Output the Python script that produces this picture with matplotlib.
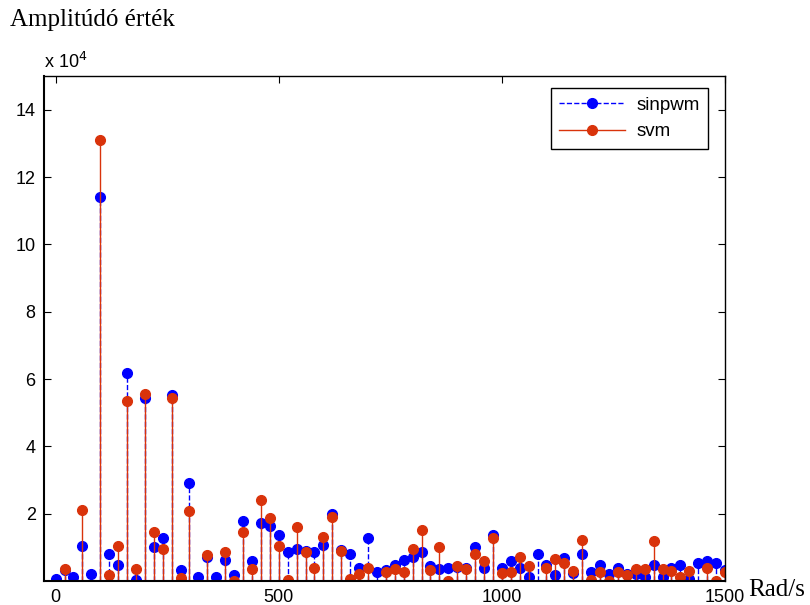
import numpy as np
import matplotlib
matplotlib.use("Agg")
import matplotlib.pyplot as plt
from matplotlib.lines import Line2D
from matplotlib.ticker import FixedLocator

# Frequency grid (rad/s)
freq = np.arange(0, 1501, 20)

# Amplitudes in units of 1e4
sinpwm = [0.07, 0.33, 0.12, 1.04, 0.21, 11.4, 0.81, 0.49, 6.18, 0.04,
          5.44, 1.00, 1.28, 5.53, 0.32, 2.92, 0.12, 0.72, 0.12, 0.62,
          0.18, 1.78, 0.59, 1.73, 1.63, 1.36, 0.86, 0.96, 0.90, 0.85,
          1.08, 2.00, 0.92, 0.81, 0.40, 1.28, 0.26, 0.33, 0.49, 0.62,
          0.72, 0.86, 0.45, 0.35, 0.40, 0.42, 0.38, 1.00, 0.40, 1.37,
          0.38, 0.59, 0.40, 0.12, 0.81, 0.49, 0.18, 0.67, 0.25, 0.81,
          0.27, 0.49, 0.22, 0.40, 0.22, 0.22, 0.12, 0.49, 0.12, 0.40,
          0.49, 0.07, 0.54, 0.58, 0.54, 0.33]
svm = [np.nan, 0.35, np.nan, 2.10, np.nan, 13.09, 0.17, 1.04, 5.35, 0.35,
       5.56, 1.45, 0.95, 5.44, 0.08, 2.09, np.nan, 0.76, np.nan, 0.86,
       0.00, 1.46, 0.35, 2.41, 1.87, 1.04, 0.03, 1.59, 0.87, 0.40,
       1.32, 1.91, 0.90, 0.07, 0.22, 0.40, np.nan, 0.27, 0.36, 0.27,
       0.95, 1.51, 0.32, 1.00, 0.00, 0.45, 0.36, 0.81, 0.59, 1.28,
       0.23, 0.27, 0.72, 0.45, np.nan, 0.40, 0.66, 0.54, 0.30, 1.23,
       0.03, 0.27, 0.00, 0.28, 0.17, 0.35, 0.35, 1.18, 0.35, 0.31,
       0.12, 0.31, np.nan, 0.40, 0.00, 0.28]
series_labels = ["sinpwm", "svm"]
xticks = [0, 500, 1000, 1500]
yticks = [2, 4, 6, 8, 10, 12, 14]

BLUE = "#0000ff"
RED = "#d9330b"
SANS = ["Liberation Sans", "DejaVu Sans"]
SERIF = ["Liberation Serif", "DejaVu Serif"]
MS = 7.0

fig = plt.figure(figsize=(8.1, 6.05), dpi=100)
ax = fig.add_axes([44/810, 24/605, 681/810, 505/605])

ml, sl, bl = ax.stem(freq, sinpwm, linefmt="--", markerfmt="o", basefmt=" ")
plt.setp(sl, color=BLUE, linewidth=1.0)
plt.setp(ml, color=BLUE, markersize=MS, markeredgecolor=BLUE)

ml2, sl2, bl2 = ax.stem(freq, svm, linefmt="-", markerfmt="o", basefmt=" ")
plt.setp(sl2, color=RED, linewidth=1.0)
plt.setp(ml2, color=RED, markersize=MS, markeredgecolor=RED)

ax.set_xlim(-26, 1500)
ax.set_ylim(0, 15)
ax.xaxis.set_major_locator(FixedLocator(xticks))
ax.yaxis.set_major_locator(FixedLocator(yticks))
ax.tick_params(direction="in", length=5, width=0.8, top=True, right=True,
               labelsize=13, pad=6)
for lab in ax.get_xticklabels() + ax.get_yticklabels():
    lab.set_family(SANS)
for s in ax.spines.values():
    s.set_linewidth(1.0)
    s.set_color("black")
ax.spines["bottom"].set_linewidth(1.5)
ax.spines["left"].set_linewidth(1.5)

handles = [Line2D([], [], color=BLUE, ls="--", lw=1.0, marker="o", markersize=MS),
           Line2D([], [], color=RED, ls="-", lw=1.0, marker="o", markersize=MS)]
leg = ax.legend(handles, series_labels, loc="upper right",
                bbox_to_anchor=(708/810, 1 - 88/605), bbox_transform=fig.transFigure,
                borderaxespad=0, fancybox=False, framealpha=1, edgecolor="black",
                prop={"family": SANS, "size": 13.5}, numpoints=1,
                handlelength=3.5, handletextpad=0.6, labelspacing=0.5,
                borderpad=0.45)
leg.get_frame().set_linewidth(1.0)

fig.text(44/810, 1 - 62/605, r"x 10$^{4}$", family=SANS, fontsize=13,
         ha="left", va="center")
fig.text(10/810, 1 - 20/605, "Amplitúdó érték", family=SERIF, fontsize=18,
         ha="left", va="center")
fig.text(748/810, 1 - 590/605, "Rad/s", family=SERIF, fontsize=18,
         ha="left", va="center")

fig.savefig("out.png", dpi=100)
